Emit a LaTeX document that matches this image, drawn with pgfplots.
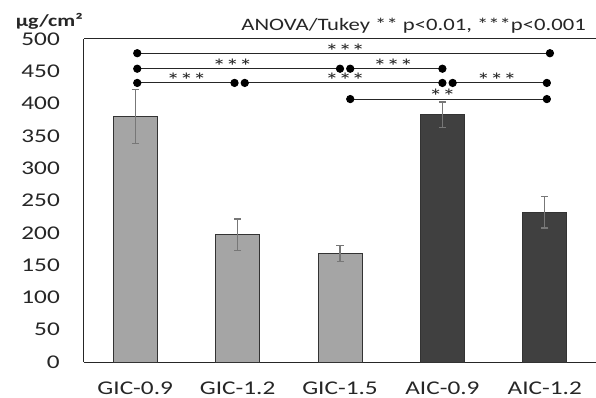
\documentclass[border=0pt]{standalone}
\usepackage{pgfplots}
\pgfplotsset{compat=1.18}
\usepackage{fontspec}
\setmainfont[FakeStretch=1.3]{Carlito}
\definecolor{gicgray}{HTML}{A5A5A5}
\definecolor{aicgray}{HTML}{404040}
\definecolor{errgray}{HTML}{777777}
\tikzset{
  sig/.style={black!85, line width=1bp, mark=*, mark size=3.6bp, mark options={solid, fill=black, draw=black}},
  star/.style={font=\fontsize{20.5}{22}\selectfont, anchor=base, inner sep=0pt, yshift=-4.8bp, text=black!85},
}
\begin{document}
\begin{tikzpicture}
\useasboundingbox (-84bp,-36bp) rectangle (512bp,362bp);
\begin{axis}[
  at={(0,0)}, anchor=south west,
  width=512bp, height=323bp, scale only axis,
  xmin=-0.5, xmax=4.5, ymin=0, ymax=500,
  axis x line*=bottom, axis y line*=left,
  axis line style={black!85, line width=1bp},
  xtick={0,1,2,3,4},
  xticklabels={GIC-0.9,GIC-1.2,GIC-1.5,AIC-0.9,AIC-1.2},
  ytick={0,50,...,500},
  major tick length=0pt,
  /pgf/number format/assume math mode=true,
  tick label style={font=\fontsize{19.5}{22}\selectfont, text=black!85},
  yticklabel style={anchor=east, inner sep=0pt, xshift=-24bp},
  xticklabel style={anchor=base, inner sep=0pt, yshift=-32.5bp},
  clip=false,
]
\draw[black!85, line width=1bp] (rel axis cs:0,1) -- (rel axis cs:1,1);

% bars
\addplot[ybar, bar width=44bp, bar shift=0pt, fill=gicgray, draw=black!80, line width=0.9bp,
  error bars/.cd, y dir=both, y explicit,
  error bar style={errgray, line width=1.2bp},
  error mark options={rotate=90, mark size=3.5bp, errgray, line width=1.2bp}]
  coordinates {(0,380) +- (0,42) (1,197) +- (0,24.5) (2,168) +- (0,12)};
\addplot[ybar, bar width=44bp, bar shift=0pt, fill=aicgray, draw=black!80, line width=0.9bp,
  error bars/.cd, y dir=both, y explicit,
  error bar style={errgray, line width=1.2bp},
  error mark options={rotate=90, mark size=3.5bp, errgray, line width=1.2bp}]
  coordinates {(3,383) +- (0,19.5) (4,232) +- (0,24.5)};

% significance lines
\addplot[sig] coordinates {(0.02,478) (4.05,478)};
\addplot[sig] coordinates {(0.02,454) (2.0,454)};
\addplot[sig] coordinates {(2.1,454) (3.0,454)};
\addplot[sig] coordinates {(0.02,432) (0.97,432)};
\addplot[sig] coordinates {(1.07,432) (3.0,432)};
\addplot[sig] coordinates {(3.1,432) (4.02,432)};
\addplot[sig] coordinates {(2.1,407) (4.02,407)};

\node[star] at (axis cs:2.05,478) {***};
\node[star] at (axis cs:0.95,454) {***};
\node[star] at (axis cs:2.52,454) {***};
\node[star] at (axis cs:0.5,432) {***};
\node[star] at (axis cs:2.05,432) {***};
\node[star] at (axis cs:3.53,432) {***};
\node[star] at (axis cs:3.0,407) {**};

\node[anchor=base east, inner sep=0pt, font=\bfseries\fontsize{17}{20}\selectfont, text=black!85]
  at ([shift={(-1bp,12bp)}]rel axis cs:0,1) {µg/cm²};
\node[anchor=base east, inner sep=0pt, font=\fontsize{17.5}{20}\selectfont, text=black!85]
  at ([shift={(-10bp,8bp)}]rel axis cs:1,1) {ANOVA/Tukey ** p<0.01, ***p<0.001};
\end{axis}
\end{tikzpicture}
\end{document}
